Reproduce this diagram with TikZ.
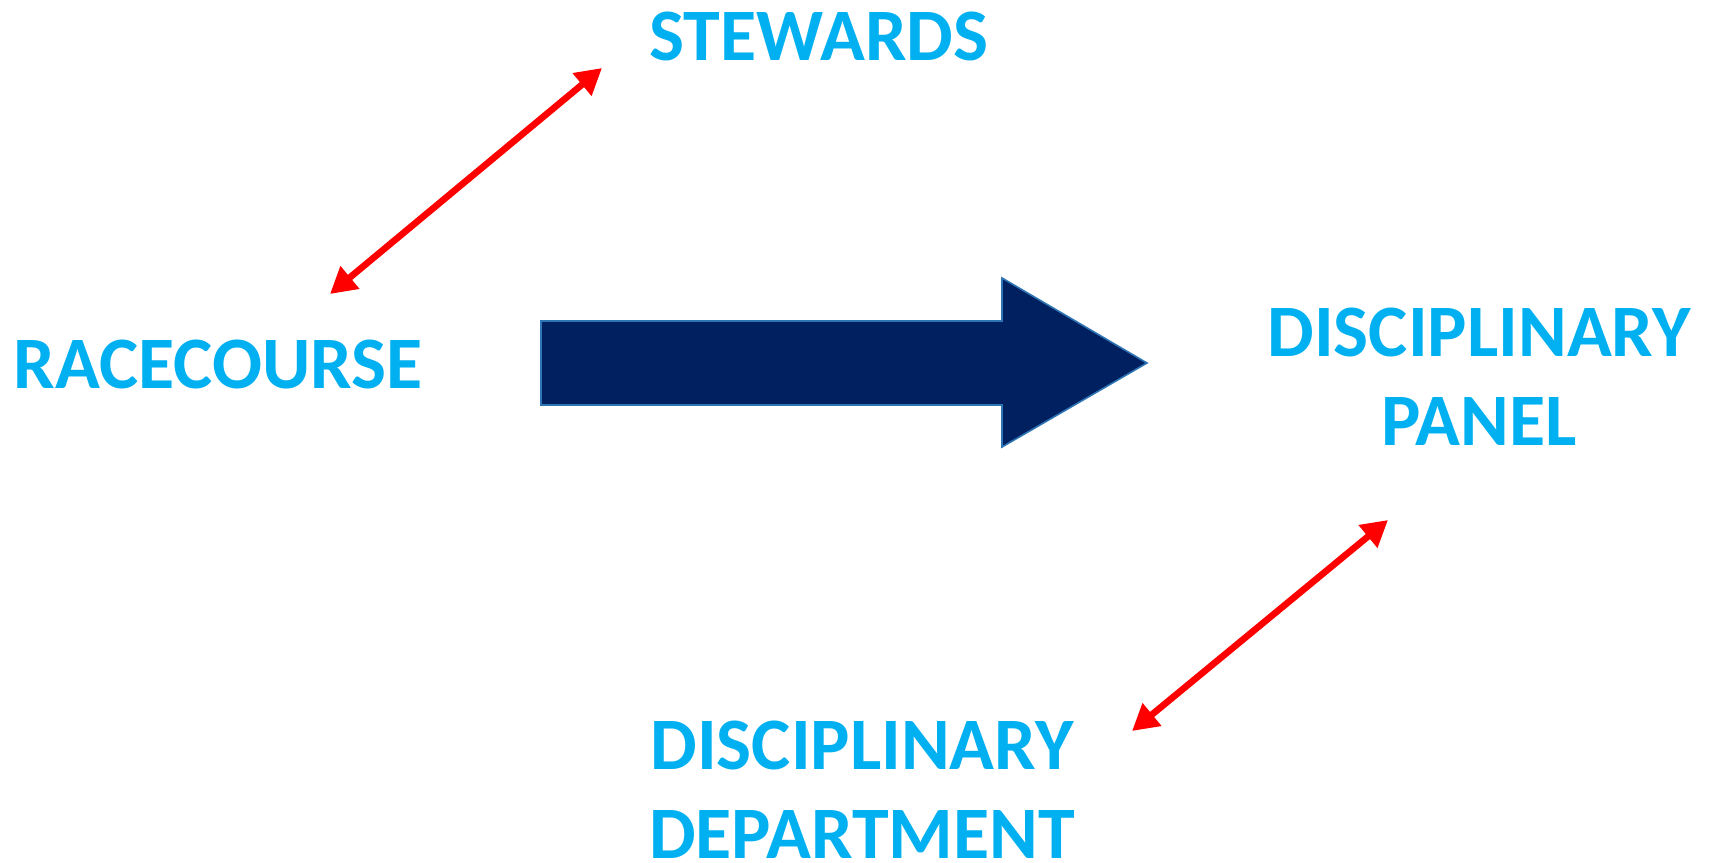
\documentclass[tikz,border=0pt]{standalone}
\usepackage{fontspec}
\setmainfont{Carlito}
\usetikzlibrary{arrows.meta}
\definecolor{labelblue}{HTML}{00B0F0}
\definecolor{navy}{HTML}{002060}
\definecolor{edgeblue}{HTML}{2E75B6}
\tikzset{
  lbl/.style={text=labelblue,font=\fontsize{37}{44.5}\selectfont\bfseries,inner sep=0pt,anchor=base,align=center},
  link/.style={red,line width=3.3pt,{Triangle[length=13pt,width=14pt]}-{Triangle[length=13pt,width=14pt]}}
}
\begin{document}
\begin{tikzpicture}[x=0.5pt,y=-0.5pt]
        \useasboundingbox (0,0) rectangle (1710,863);
        % labels
        \node[lbl] (stewards) at (819,60) {STEWARDS};
        \node[lbl] (racecourse) at (218,388) {RACECOURSE};
        \node[lbl] (panel) at (1479,445) {DISCIPLINARY\\PANEL};
        \node[lbl] (dept) at (862,858) {DISCIPLINARY\\DEPARTMENT};
        % big arrow
        \draw[fill=navy,draw=edgeblue,line width=0.8pt] (541,321) -- (1002,321) -- (1002,278) -- (1147,363) -- (1002,447) -- (1002,405) -- (541,405) -- cycle;
        % red links
        \coordinate (rc-end) at (330,294);
        \coordinate (st-end) at (602,68);
        \coordinate (pa-end) at (1388,520);
        \coordinate (de-end) at (1132,731);
        \draw[link] (rc-end) -- (st-end);
        \draw[link] (de-end) -- (pa-end);
\end{tikzpicture}
\end{document}
